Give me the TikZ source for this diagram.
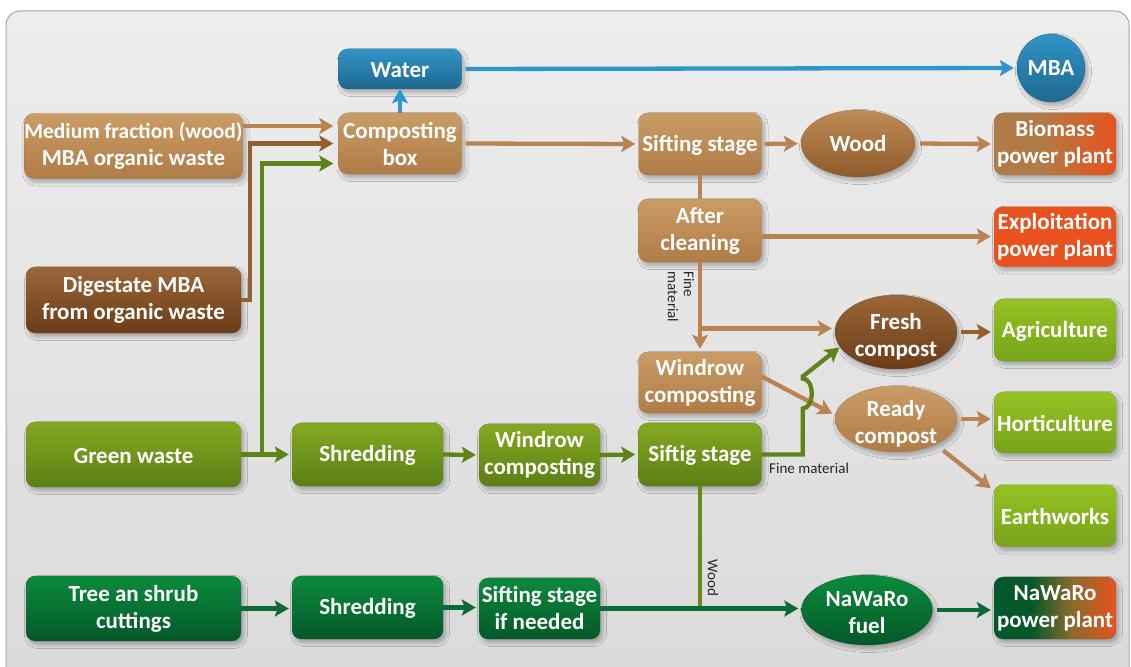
\documentclass[tikz,border=0pt]{standalone}
\usepackage{fontspec}
\setmainfont{Carlito}
\usetikzlibrary{arrows.meta,shapes.geometric,shadows.blur,calc}

% box fills
\definecolor{lbTop}{HTML}{CA9C66}
\definecolor{lbBot}{HTML}{B07B46}
\definecolor{dbTop}{HTML}{9C6638}
\definecolor{dbBot}{HTML}{6A3C17}
\definecolor{wdTop}{HTML}{C08B55}
\definecolor{wdBot}{HTML}{8F5B2C}
\definecolor{ogTop}{HTML}{84A920}
\definecolor{ogBot}{HTML}{5B7F15}
\definecolor{lgTop}{HTML}{95C223}
\definecolor{lgBot}{HTML}{77A41A}
\definecolor{dgTop}{HTML}{0B8B3C}
\definecolor{dgBot}{HTML}{045829}
\definecolor{blTop}{HTML}{3194C6}
\definecolor{blBot}{HTML}{1E6891}
\definecolor{orng}{HTML}{E9521E}
\definecolor{olbr}{HTML}{8C6A2C}
% connector colours
\definecolor{aLB}{HTML}{B98451}
\definecolor{aDB}{HTML}{935F31}
\definecolor{aOG}{HTML}{5E8418}
\definecolor{aDG}{HTML}{0B6B34}
\definecolor{aBL}{HTML}{2F96CC}
\definecolor{aOW}{HTML}{6B8A1E}
\definecolor{frameTop}{HTML}{EDEDED}
\definecolor{frameBot}{HTML}{DADADA}

% left-to-right fades for the power plant boxes
\pgfdeclarehorizontalshading{biofade}{100bp}{color(0bp)=(lbBot); color(25bp)=(lbBot); color(44bp)=(lbBot); color(75bp)=(orng); color(100bp)=(orng)}
\pgfdeclarehorizontalshading{nawarofade}{100bp}{color(0bp)=(dgBot); color(25bp)=(dgBot); color(40bp)=(dgBot); color(57bp)=(olbr); color(75bp)=(orng); color(100bp)=(orng)}

\newcommand{\topstrut}[1]{\rule{0pt}{#1}}

\tikzset{
  shad/.style={blur shadow={shadow xshift=2.5pt, shadow yshift=-3.5pt, shadow blur radius=4pt, shadow opacity=30, shadow blur steps=8}},
  box/.style={shad, rounded corners=9pt, inner sep=0pt, align=center, text=white,
    font=\bfseries\fontsize{23}{27}\selectfont, minimum width=#1,
    execute at begin node=\rule{0pt}{18pt}},
  box/.default=123pt,
  oval/.style={shad, ellipse, inner xsep=0pt, inner ysep=-8pt, align=center, text=white,
    font=\bfseries\fontsize{23}{27}\selectfont},
  lbrown/.style={top color=lbTop, bottom color=lbBot, draw=lbBot!85!black, draw opacity=.4},
  dbrown/.style={top color=dbTop, bottom color=dbBot, draw=dbBot!85!black, draw opacity=.4},
  woodc/.style={top color=wdTop, bottom color=wdBot, draw=wdBot!85!black, draw opacity=.4},
  olive/.style={top color=ogTop, bottom color=ogBot, draw=ogBot!85!black, draw opacity=.4},
  lgreen/.style={top color=lgTop, bottom color=lgBot, draw=lgBot!85!black, draw opacity=.4},
  dgreen/.style={top color=dgTop, bottom color=dgBot, draw=dgBot!85!black, draw opacity=.4},
  blue/.style={top color=blTop, bottom color=blBot, draw=blBot!80!black, draw opacity=.6},
  flow/.style={line width=4.3pt, draw=#1, -{Stealth[length=14pt,width=16pt,inset=3pt]}, shorten >=3pt},
  plain/.style={line width=4.3pt, draw=#1},
  lbl/.style={font=\fontsize{15}{16}\selectfont, text=black!85, inner sep=0pt}
}

\begin{document}
\begin{tikzpicture}[x=1pt,y=-1pt]
\useasboundingbox (0,0) rectangle (1131,666);
% panel
\draw[draw=black!35, line width=1pt, rounded corners=14pt, top color=frameTop, bottom color=frameBot]
  (6,11) rectangle (1129,700);

% ---- nodes ----
\node[box, blue, minimum height=40pt] (water) at (400,69) {Water};
\node[oval, blue, minimum width=68pt, minimum height=68pt] (mba) at (1051,68) {MBA};

\node[box=215pt, lbrown, minimum height=65pt] (med) at (133.5,146) {{\fontsize{21.5}{27}\selectfont Medium fraction (wood)}\\MBA organic waste};
\node[box, lbrown, minimum height=61pt] (comp) at (400,143.5) {Composting\\box};
\node[box, lbrown, minimum height=62pt] (sift) at (700,144) {Sifting stage};
\node[oval, woodc, minimum width=114pt, minimum height=67pt] (wood) at (858,143.5) {Wood};
\node[box=122pt, shading=biofade, draw=lbBot!85!black, draw opacity=.4, minimum height=62pt] (bio) at (1055,144) {Biomass\\power plant};

\node[box, lbrown, minimum height=63pt] (after) at (700,230.5) {After\\cleaning};
\node[box=122pt, fill=orng, draw=orng!85!black, draw opacity=.4, minimum height=60pt] (expl) at (1055,236.5) {Exploitation\\power plant};

\node[box=215pt, dbrown, minimum height=66pt] (dig) at (133.5,300) {Digestate MBA\\from organic waste};
\node[oval, dbrown, minimum width=122pt, minimum height=74pt] (fresh) at (896,332) {\topstrut{26pt}Fresh\\compost};
\node[box=122pt, lgreen, minimum height=62pt] (agri) at (1055,330) {Agriculture};

\node[box, lbrown, minimum height=61pt] (wr) at (700,382.5) {Windrow\\composting};
\node[oval, lbrown, minimum width=122pt, minimum height=66pt] (ready) at (896,419) {\topstrut{26pt}Ready\\compost};
\node[box=122pt, lgreen, minimum height=61pt] (horti) at (1055,422.5) {Horticulture};

\node[box=215pt, olive, minimum height=65pt] (gw) at (133.5,454.5) {Green waste};
\node[box=151pt, olive, minimum height=63pt] (sh1) at (367.5,454.5) {Shredding};
\node[box=121pt, olive, minimum height=62pt] (wg) at (539.5,455) {Windrow\\composting};
\node[box, olive, minimum height=63pt] (sg) at (700,454.5) {Siftig stage};
\node[box=122pt, lgreen, minimum height=62pt] (earth) at (1055,515.5) {Earthworks};

\node[box=215pt, dgreen, minimum height=65pt] (tree) at (133.5,608.5) {Tree an shrub\\cuttings};
\node[box=151pt, dgreen, minimum height=63pt] (sh2) at (367.5,607.5) {Shredding};
\node[box=121pt, dgreen, minimum height=61pt] (sif2) at (539.5,608.5) {Sifting stage\\if needed};
\node[oval, dgreen, minimum width=131pt, minimum height=70pt] (fuel) at (867,610) {\topstrut{20pt}NaWaRo\\fuel};
\node[box=122pt, shading=nawarofade, draw=dgBot!85!black, draw opacity=.4, minimum height=62pt] (npp) at (1055,608) {NaWaRo\\power plant};

% ---- connectors ----
% water line
\draw[flow=aBL, shorten <=4pt] (water.east) -- (mba.west);
\draw[flow=aBL, shorten >=0pt] (comp.north) -- (water.south);

% inputs to the composting box
\draw[flow=aLB, shorten >=5pt] ([yshift=20pt]med.east) -- ([yshift=20pt]med.east -| comp.west);
\draw[flow=aDB, shorten >=5pt] (dig.east) -- ++(9,0) |- (comp.west);
\draw[flow=aOG, shorten >=5pt] (gw.east) -- ++(21,0) |- ([yshift=-20pt]comp.west);

% composting box line
\draw[flow=aLB, shorten <=4pt] (comp.east) -- (sift.west);
\draw[flow=aLB, shorten <=3pt] (sift.east) -- (wood.west);
\draw[flow=aLB, shorten <=5pt] (wood.east) -- (bio.west);
\draw[plain=aLB] (sift.south) -- (after.north);
\draw[flow=aLB] (after.east |- expl.west) -- (expl.west);
\draw[flow=aLB] (after.south) -- (wr.north);
\coordinate (fmj) at ($(after.south)!0.74!(wr.north)$);
\draw[flow=aLB] (fmj) -- (fmj -| fresh.west);
\draw[flow=aDB, shorten <=4pt] (fresh.east) -- (fresh.east -| agri.west);
\draw[flow=aLB] ([yshift=6pt]wr.east) -- ([yshift=4pt]ready.west);
\draw[flow=aLB, shorten <=4pt] (ready.east) -- (ready.east -| horti.west);
\draw[flow=aLB, shorten >=0pt] ([shift={(4pt,-8pt)}]ready.south east) -- ([shift={(-3pt,-4pt)}]earth.north west);

% green waste line
\draw[flow=aOG] (gw.east) -- (sh1.west);
\draw[flow=aOG] (sh1.east) -- (wg.west);
\draw[flow=aOG] (wg.east) -- (sg.west);
\draw[flow=aOG, shorten >=1pt, line join=miter]
  (sg.east) -- ++(41,0) -- ++(0,-46)
  .. controls +(12,0) and +(12,0) .. ++(0,-30)
  -- ++(0,-2) -- (fresh.195);
\draw[plain=aOW] (sg.south) -- (sg.south |- sif2.east);

% tree and shrub line
\draw[flow=aDG] (tree.east) -- (tree.east -| sh2.west);
\draw[flow=aDG] (sh2.east) -- (sh2.east -| sif2.west);
\draw[flow=aDG] (sif2.east) -- (sif2.east -| fuel.west);
\draw[flow=aDG, shorten <=4pt] (fuel.east) -- (fuel.east -| npp.west);

% labels
\node[lbl, rotate=-90, align=left] (lfine) at (681,297) {Fine\\material};
\node[lbl, anchor=west] (lfine2) at (769,468) {Fine material};
\node[lbl, rotate=-90] (lwood) at (713,578) {Wood};
\end{tikzpicture}
\end{document}
